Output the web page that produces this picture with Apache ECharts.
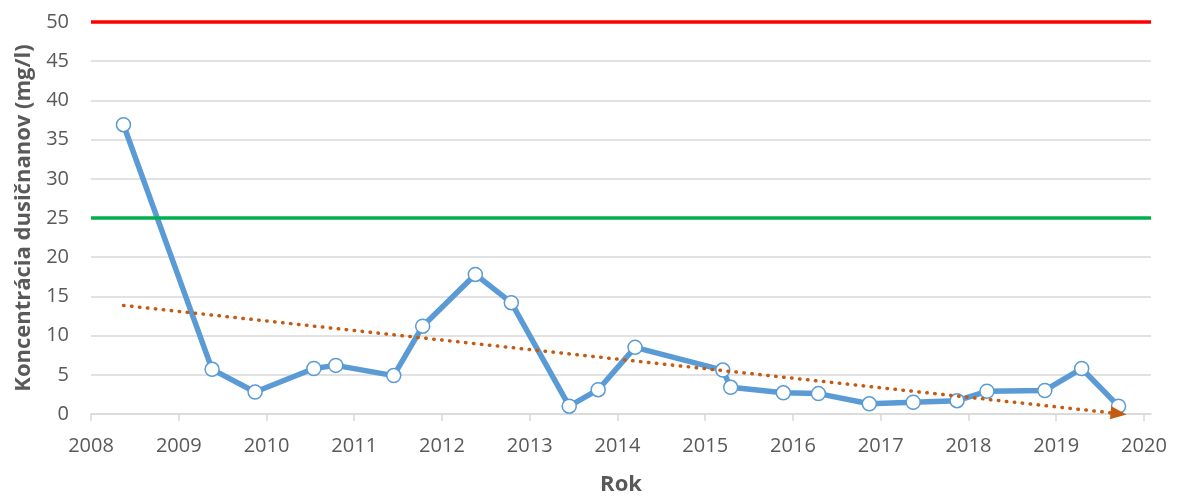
<!DOCTYPE html>
<html>
<head>
<meta charset="utf-8">
<script src="https://cdn.jsdelivr.net/npm/echarts@6/dist/echarts.min.js"></script>
<style>
  html, body { margin: 0; padding: 0; background: #fff; }
  #main { width: 1184px; height: 499px; }
</style>
</head>
<body>
<div id="main"></div>
<script>
    var myChart = echarts.init(document.getElementById('main'));

    // dátumy odberov (desatinný rok) a namerané hodnoty
    var sampleYears = [2008.37, 2009.38, 2009.87, 2010.54, 2010.79, 2011.45, 2011.78, 2012.38,
        2012.79, 2013.45, 2013.78, 2014.20, 2015.20, 2015.29, 2015.89, 2016.29, 2016.87,
        2017.37, 2017.87, 2018.21, 2018.87, 2019.29, 2019.71];
    var nitrate = [36.9, 5.7, 2.8, 5.8, 6.2, 4.9, 11.2, 17.8, 14.2, 1.0, 3.1, 8.5, 5.6, 3.4,
        2.7, 2.6, 1.3, 1.5, 1.7, 2.9, 3.0, 5.8, 1.0];

    // lineárny trend (začiatok, koniec)
    var trendYears = [2008.37, 2019.71];
    var trendValues = [13.85, 0.05];

    // limity
    var limitHigh = 50;
    var limitLow = 25;

    var tickYears = [2008, 2009, 2010, 2011, 2012, 2013, 2014, 2015, 2016, 2017, 2018, 2019, 2020];

    var textColor = '#595959';
    var fontName = '"Open Sans", sans-serif';

    var option = {
        animation: false,
        backgroundColor: '#fff',
        grid: {
            left: 91,
            right: 33,
            top: 22,
            bottom: 85,
            outerBoundsMode: 'none'
        },
        xAxis: {
            type: 'value',
            min: 2008,
            max: 2020.08,
            interval: 1,
            name: 'Rok',
            nameLocation: 'middle',
            nameGap: 60,
            nameTextStyle: {
                color: textColor,
                fontFamily: fontName,
                fontWeight: 'bold',
                fontSize: 22
            },
            axisLine: { lineStyle: { color: '#d9d9d9', width: 1.5 } },
            axisTick: {
                show: true,
                length: 7,
                customValues: tickYears,
                lineStyle: { color: '#d9d9d9', width: 1.5 }
            },
            axisLabel: {
                customValues: tickYears,
                color: textColor,
                fontFamily: fontName,
                fontSize: 20,
                margin: 22,
                formatter: function (v) {
                    return String(Math.round(v));
                }
            },
            splitLine: { show: false }
        },
        yAxis: {
            type: 'value',
            min: 0,
            max: 50,
            interval: 5,
            name: 'Koncentrácia dusičnanov (mg/l)',
            nameLocation: 'middle',
            nameGap: 55,
            nameTextStyle: {
                color: textColor,
                fontFamily: fontName,
                fontWeight: 'bold',
                fontSize: 22
            },
            axisLine: { show: false },
            axisTick: { show: false },
            axisLabel: {
                color: textColor,
                fontFamily: fontName,
                fontSize: 20,
                margin: 22
            },
            splitLine: { lineStyle: { color: '#d9d9d9', width: 1.5 } }
        },
        series: [{
            // limity
            type: 'line',
            data: [],
            z: 1,
            markLine: {
                silent: true,
                symbol: ['none', 'none'],
                label: { show: false },
                data: [
                    { yAxis: limitHigh, lineStyle: { color: '#ff0000', width: 3.5, type: 'solid' } },
                    { yAxis: limitLow, lineStyle: { color: '#00b050', width: 3.5, type: 'solid' } }
                ]
            }
        }, {
            type: 'line',
            z: 3,
            data: sampleYears.map(function (x, i) {
                return [x, nitrate[i]];
            }),
            symbol: 'circle',
            symbolSize: 14,
            showAllSymbol: true,
            lineStyle: { color: '#5b9bd5', width: 5.5 },
            itemStyle: { color: '#fff', borderColor: '#5b9bd5', borderWidth: 1.5 }
        }, {
            // trend
            type: 'line',
            data: [],
            z: 4,
            markLine: {
                silent: true,
                symbol: ['none', 'triangle'],
                symbolSize: [13, 16],
                label: { show: false },
                lineStyle: {
                    color: '#c55a11',
                    width: 3.5,
                    type: [0.5, 7.5],
                    cap: 'round'
                },
                itemStyle: { color: '#c55a11' },
                data: [[
                    { coord: [trendYears[0], trendValues[0]] },
                    { coord: [trendYears[1], trendValues[1]] }
                ]]
            }
        }]
    };

    myChart.setOption(option);
</script>
</body>
</html>
